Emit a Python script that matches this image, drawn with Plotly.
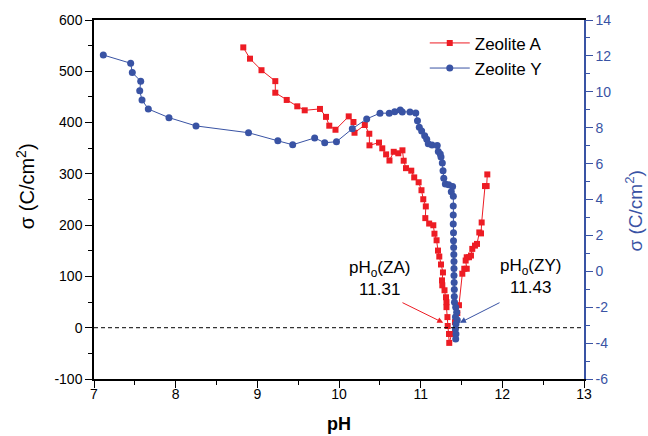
import plotly.graph_objects as go

# Zeolite A (left axis, sigma C/cm2)
ph_a = [8.828, 8.910, 9.051, 9.220, 9.220, 9.360, 9.489, 9.580, 9.767, 9.841,
        9.881, 9.957, 10.119, 10.177, 10.190, 10.316, 10.371, 10.373, 10.490, 10.530,
        10.577, 10.618, 10.670, 10.726, 10.777, 10.792, 10.820, 10.885, 10.921, 10.975,
        11.010, 11.032, 11.063, 11.057, 11.104, 11.155, 11.169, 11.195, 11.212, 11.228,
        11.249, 11.273, 11.261, 11.265, 11.292, 11.310, 11.316, 11.316, 11.328, 11.331,
        11.347, 11.350, 11.380, 11.420, 11.449, 11.469, 11.510, 11.534, 11.564, 11.551,
        11.564, 11.592, 11.616, 11.632, 11.665, 11.690, 11.718, 11.739, 11.747, 11.788,
        11.808, 11.816]
sig_a = [546.6, 524.6, 502.1, 480.8, 458.2, 444.1, 431.7, 423.9, 426.6, 411.1,
         393.9, 386.0, 412.1, 401.1, 380.2, 395.3, 378.2, 355.6, 361.0, 349.8,
         338.0, 326.0, 343.0, 340.1, 345.9, 325.6, 311.1, 306.2, 293.1, 283.6,
         268.1, 250.5, 236.5, 213.7, 203.1, 199.8, 183.3, 170.5, 150.4, 138.8,
         123.3, 107.8, 92.3, 82.7, 73.0, 59.4, 49.7, 40.1, 20.7, 3.3,
         -12.2, -29.6, -12.2, 11.0, 28.5, 43.9, 105.3, 115.0, 115.0, 131.0,
         137.4, 137.4, 140.7, 153.7, 160.1, 163.4, 185.8, 183.9, 205.2, 276.2,
         276.2, 298.9]

# Zeolite Y (right axis, sigma C/cm2)
ph_y = [7.114, 7.449, 7.469, 7.572, 7.560, 7.588, 7.665, 7.918, 8.249, 8.892,
        9.251, 9.433, 9.702, 9.825, 9.969, 10.163, 10.339, 10.502, 10.615, 10.682,
        10.750, 10.775, 10.869, 10.940, 10.961, 10.983, 11.012, 11.049, 11.074, 11.093,
        11.139, 11.203, 11.216, 11.240, 11.249, 11.265, 11.274, 11.283, 11.302, 11.343,
        11.391, 11.375, 11.400, 11.399, 11.399, 11.399, 11.402, 11.402, 11.404, 11.406,
        11.408, 11.408, 11.408, 11.410, 11.412, 11.412, 11.414, 11.429, 11.441, 11.426,
        11.448, 11.432, 11.426, 11.432, 11.429]
sig_y = [12.05, 11.59, 11.07, 10.59, 10.06, 9.54, 9.04, 8.56, 8.10, 7.72,
         7.27, 7.05, 7.43, 7.16, 7.22, 7.94, 8.49, 8.81, 8.81, 8.89,
         8.99, 8.88, 8.88, 8.82, 8.39, 8.02, 7.81, 7.55, 7.36, 7.11,
         7.03, 7.01, 6.68, 6.53, 6.37, 6.04, 5.60, 5.19, 4.86, 4.82,
         4.73, 4.43, 4.18, 3.64, 3.14, 2.64, 2.15, 1.70, 1.32, 0.93,
         0.54, 0.15, -0.23, -0.62, -1.01, -1.40, -1.72, -2.00, -2.28, -2.55,
         -2.72, -2.94, -3.22, -3.49, -3.77]

# tick labels
left_ticks = [-100, 0, 100, 200, 300, 400, 500, 600]
left_labels = ["-100", "0", "100", "200", "300", "400", "500", "600"]
right_ticks = [-6, -4, -2, 0, 2, 4, 6, 8, 10, 12, 14]
right_labels = ["-6", "-4", "-2", "0", "2", "4", "6", "8", "10", "12", "14"]

RED = "#ED1C24"
BLUE = "#3953A4"
FONT = "Arial, Liberation Sans, sans-serif"

fig = go.Figure()
fig.add_trace(go.Scatter(x=ph_a, y=sig_a, name="Zeolite A", mode="lines+markers",
                         line=dict(color=RED, width=1),
                         marker=dict(symbol="square", size=6, color=RED)))
fig.add_trace(go.Scatter(x=ph_y, y=sig_y, name="Zeolite Y", mode="lines+markers",
                         yaxis="y2",
                         line=dict(color=BLUE, width=1),
                         marker=dict(symbol="circle", size=7, color=BLUE)))

fig.add_shape(type="line", xref="x", yref="y", x0=7, x1=13, y0=0, y1=0,
              line=dict(color="black", width=1, dash="4px,3px"))

# arrows
fig.add_annotation(x=11.277, y=9.7, ax=10.759, ay=50.3, axref="x", ayref="y",
                   xref="x", yref="y", text="", showarrow=True,
                   arrowcolor=RED, arrowwidth=1, arrowhead=2, arrowsize=1.2)
fig.add_annotation(x=11.481, y=9.7, ax=11.984, ay=50.3, axref="x", ayref="y",
                   xref="x", yref="y", text="", showarrow=True,
                   arrowcolor=BLUE, arrowwidth=1, arrowhead=2, arrowsize=1.2)
# labels
fig.add_annotation(x=10.50, y=95, xref="x", yref="y", showarrow=False,
                   xanchor="center", yanchor="middle",
                   text="pH<sub>o</sub>(ZA)<br>11.31", align="center",
                   font=dict(family=FONT, size=17, color="black"))
fig.add_annotation(x=12.35, y=100, xref="x", yref="y", showarrow=False,
                   xanchor="center", yanchor="middle",
                   text="pH<sub>o</sub>(ZY)<br>11.43", align="center",
                   font=dict(family=FONT, size=17, color="black"))

# axis titles
fig.add_annotation(x=-0.141, y=0.537, xref="paper", yref="paper", showarrow=False,
                   xanchor="center", yanchor="middle",
                   text="σ (C/cm<sup>2</sup>)", textangle=-90,
                   font=dict(family=FONT, size=20, color="black"))
fig.add_annotation(x=1.103, y=0.468, xref="paper", yref="paper", showarrow=False,
                   xanchor="center", yanchor="middle",
                   text="σ (C/cm<sup>2</sup>)", textangle=-90,
                   font=dict(family=FONT, size=19, color=BLUE))
fig.add_annotation(x=0.499, y=-0.126, xref="paper", yref="paper", showarrow=False,
                   xanchor="center", yanchor="middle",
                   text="<b>pH</b>", font=dict(family=FONT, size=18, color="black"))

fig.update_layout(
    width=648, height=436,
    margin=dict(l=94, r=64, t=18, b=57),
    paper_bgcolor="white", plot_bgcolor="white",
    font=dict(family=FONT, size=14, color="black"),
    showlegend=True,
    legend=dict(x=0.675, y=0.985, xanchor="left", yanchor="top",
                bgcolor="rgba(0,0,0,0)", font=dict(family=FONT, size=17),
                itemwidth=40, tracegroupgap=0),
    xaxis=dict(range=[7, 13], dtick=1, tick0=7, showline=True, linecolor="black",
               linewidth=1.5, mirror=True, ticks="outside", ticklen=7,
               tickcolor="black", showgrid=False, zeroline=False,
               ticklabelstandoff=-6,
               minor=dict(dtick=0.5, ticks="outside", ticklen=4, tickcolor="black"),
               tickfont=dict(size=14)),
    yaxis=dict(range=[-100, 600], tickmode="array", tickvals=left_ticks,
               ticktext=left_labels, showline=True, linecolor="black",
               linewidth=1.5, ticks="outside", ticklen=7, tickcolor="black",
               showgrid=False, zeroline=False,
               minor=dict(dtick=50, ticks="outside", ticklen=4, tickcolor="black"),
               tickfont=dict(size=14)),
    yaxis2=dict(range=[-6, 14], tickmode="array", tickvals=right_ticks,
                ticktext=right_labels, overlaying="y", side="right",
                showline=True, linecolor=BLUE, linewidth=1.5, ticks="outside",
                ticklen=7, tickcolor=BLUE, showgrid=False, zeroline=False,
                minor=dict(dtick=1, ticks="outside", ticklen=4, tickcolor=BLUE),
                tickfont=dict(size=14, color=BLUE)),
)

fig.write_html("out.html")
